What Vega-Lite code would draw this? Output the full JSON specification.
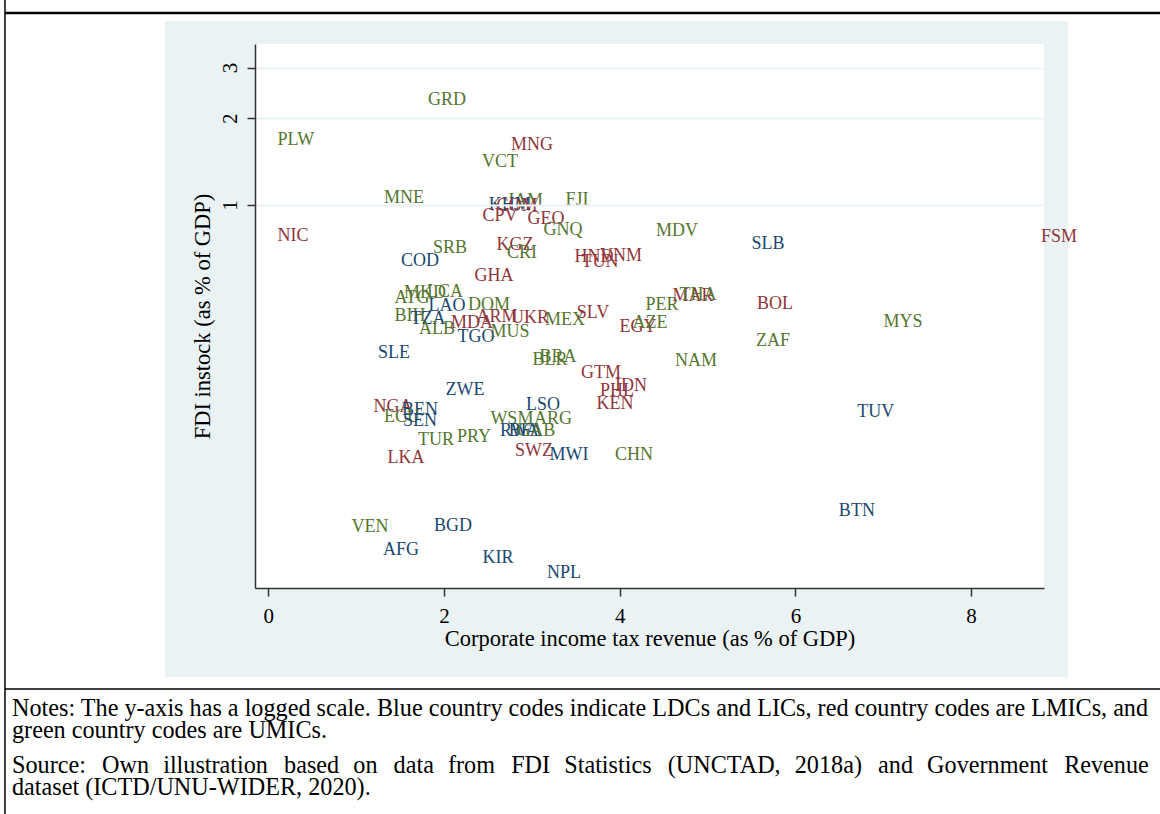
{
  "$schema": "https://vega.github.io/schema/vega-lite/v6.json",
  "width": 789,
  "height": 544,
  "autosize": {"type": "none"},
  "padding": {"left": 255, "top": 44, "right": 116, "bottom": 226},
  "background": "white",
  "config": {"view": {"stroke": null}, "font": "Liberation Serif"},
  "data": {"values": [
    {"code": "GRD", "cit": 2.034, "fdi": 2.316, "group": "UMIC"},
    {"code": "PLW", "cit": 0.315, "fdi": 1.681, "group": "UMIC"},
    {"code": "MNG", "cit": 3.002, "fdi": 1.616, "group": "LMIC"},
    {"code": "VCT", "cit": 2.638, "fdi": 1.41, "group": "UMIC"},
    {"code": "MNE", "cit": 1.545, "fdi": 1.057, "group": "UMIC"},
    {"code": "JAM", "cit": 2.921, "fdi": 1.032, "group": "UMIC"},
    {"code": "KHM", "cit": 2.75, "fdi": 1.0, "group": "LDC/LIC"},
    {"code": "COM", "cit": 2.83, "fdi": 0.992, "group": "LMIC"},
    {"code": "FJI", "cit": 3.514, "fdi": 1.041, "group": "UMIC"},
    {"code": "CPV", "cit": 2.638, "fdi": 0.916, "group": "LMIC"},
    {"code": "GEO", "cit": 3.161, "fdi": 0.894, "group": "LMIC"},
    {"code": "GNQ", "cit": 3.355, "fdi": 0.819, "group": "UMIC"},
    {"code": "MDV", "cit": 4.652, "fdi": 0.812, "group": "UMIC"},
    {"code": "NIC", "cit": 0.281, "fdi": 0.78, "group": "LMIC"},
    {"code": "FSM", "cit": 9.0, "fdi": 0.774, "group": "LMIC"},
    {"code": "SLB", "cit": 5.688, "fdi": 0.732, "group": "LDC/LIC"},
    {"code": "SRB", "cit": 2.068, "fdi": 0.709, "group": "UMIC"},
    {"code": "KGZ", "cit": 2.808, "fdi": 0.726, "group": "LMIC"},
    {"code": "CRI", "cit": 2.888, "fdi": 0.681, "group": "UMIC"},
    {"code": "HND", "cit": 3.707, "fdi": 0.66, "group": "LMIC"},
    {"code": "TUN", "cit": 3.776, "fdi": 0.634, "group": "LMIC"},
    {"code": "VNM", "cit": 4.015, "fdi": 0.665, "group": "LMIC"},
    {"code": "COD", "cit": 1.727, "fdi": 0.639, "group": "LDC/LIC"},
    {"code": "GHA", "cit": 2.569, "fdi": 0.567, "group": "LMIC"},
    {"code": "ATG", "cit": 1.636, "fdi": 0.4755, "group": "UMIC"},
    {"code": "MKD", "cit": 1.784, "fdi": 0.495, "group": "UMIC"},
    {"code": "LCA", "cit": 2.012, "fdi": 0.4989, "group": "UMIC"},
    {"code": "LAO", "cit": 2.034, "fdi": 0.446, "group": "LDC/LIC"},
    {"code": "DOM", "cit": 2.512, "fdi": 0.4496, "group": "UMIC"},
    {"code": "BIH", "cit": 1.613, "fdi": 0.4117, "group": "UMIC"},
    {"code": "TZA", "cit": 1.818, "fdi": 0.4019, "group": "LDC/LIC"},
    {"code": "ARM", "cit": 2.604, "fdi": 0.4084, "group": "LMIC"},
    {"code": "UKR", "cit": 2.979, "fdi": 0.4052, "group": "LMIC"},
    {"code": "MEX", "cit": 3.377, "fdi": 0.3988, "group": "UMIC"},
    {"code": "SLV", "cit": 3.696, "fdi": 0.4217, "group": "LMIC"},
    {"code": "ALB", "cit": 1.92, "fdi": 0.3709, "group": "UMIC"},
    {"code": "MDA", "cit": 2.319, "fdi": 0.3892, "group": "LMIC"},
    {"code": "TGO", "cit": 2.364, "fdi": 0.348, "group": "LDC/LIC"},
    {"code": "MUS", "cit": 2.751, "fdi": 0.3623, "group": "UMIC"},
    {"code": "PER", "cit": 4.481, "fdi": 0.4496, "group": "UMIC"},
    {"code": "MAR", "cit": 4.834, "fdi": 0.4831, "group": "LMIC"},
    {"code": "THA", "cit": 4.891, "fdi": 0.487, "group": "UMIC"},
    {"code": "BOL", "cit": 5.768, "fdi": 0.4532, "group": "LMIC"},
    {"code": "EGY", "cit": 4.208, "fdi": 0.3769, "group": "LMIC"},
    {"code": "AZE", "cit": 4.345, "fdi": 0.3892, "group": "UMIC"},
    {"code": "MYS", "cit": 7.225, "fdi": 0.3924, "group": "UMIC"},
    {"code": "ZAF", "cit": 5.745, "fdi": 0.3372, "group": "UMIC"},
    {"code": "SLE", "cit": 1.431, "fdi": 0.3062, "group": "LDC/LIC"},
    {"code": "BRA", "cit": 3.298, "fdi": 0.2966, "group": "UMIC"},
    {"code": "BLR", "cit": 3.207, "fdi": 0.2895, "group": "UMIC"},
    {"code": "NAM", "cit": 4.869, "fdi": 0.2872, "group": "UMIC"},
    {"code": "GTM", "cit": 3.787, "fdi": 0.261, "group": "LMIC"},
    {"code": "IDN", "cit": 4.129, "fdi": 0.2352, "group": "LMIC"},
    {"code": "PHL", "cit": 3.969, "fdi": 0.226, "group": "LMIC"},
    {"code": "ZWE", "cit": 2.239, "fdi": 0.2278, "group": "LDC/LIC"},
    {"code": "KEN", "cit": 3.947, "fdi": 0.2037, "group": "LMIC"},
    {"code": "NGA", "cit": 1.419, "fdi": 0.1989, "group": "LMIC"},
    {"code": "BEN", "cit": 1.727, "fdi": 0.1942, "group": "LDC/LIC"},
    {"code": "LSO", "cit": 3.127, "fdi": 0.2021, "group": "LDC/LIC"},
    {"code": "TUV", "cit": 6.916, "fdi": 0.1911, "group": "LDC/LIC"},
    {"code": "ECU", "cit": 1.522, "fdi": 0.1836, "group": "UMIC"},
    {"code": "SEN", "cit": 1.727, "fdi": 0.1778, "group": "LDC/LIC"},
    {"code": "WSM", "cit": 2.773, "fdi": 0.1807, "group": "UMIC"},
    {"code": "ARG", "cit": 3.24, "fdi": 0.1807, "group": "UMIC"},
    {"code": "RWA", "cit": 2.86, "fdi": 0.1642, "group": "LDC/LIC"},
    {"code": "BFA", "cit": 2.93, "fdi": 0.1642, "group": "LDC/LIC"},
    {"code": "GAB", "cit": 3.05, "fdi": 0.1642, "group": "UMIC"},
    {"code": "TUR", "cit": 1.909, "fdi": 0.1528, "group": "UMIC"},
    {"code": "PRY", "cit": 2.341, "fdi": 0.1565, "group": "UMIC"},
    {"code": "SWZ", "cit": 3.025, "fdi": 0.1399, "group": "LMIC"},
    {"code": "MWI", "cit": 3.423, "fdi": 0.1355, "group": "LDC/LIC"},
    {"code": "CHN", "cit": 4.163, "fdi": 0.1355, "group": "UMIC"},
    {"code": "LKA", "cit": 1.567, "fdi": 0.1323, "group": "LMIC"},
    {"code": "BTN", "cit": 6.7, "fdi": 0.0866, "group": "LDC/LIC"},
    {"code": "VEN", "cit": 1.158, "fdi": 0.0762, "group": "UMIC"},
    {"code": "BGD", "cit": 2.102, "fdi": 0.0768, "group": "LDC/LIC"},
    {"code": "AFG", "cit": 1.511, "fdi": 0.0634, "group": "LDC/LIC"},
    {"code": "KIR", "cit": 2.615, "fdi": 0.0595, "group": "LDC/LIC"},
    {"code": "NPL", "cit": 3.366, "fdi": 0.0528, "group": "LDC/LIC"}
  ]},
  "layer": [
    {
      "data": {"values": [{}]},
      "mark": {"type": "rect", "color": "#EAF2F3"},
      "encoding": {
        "x": {"datum": -1.1755, "type": "quantitative"},
        "x2": {"datum": 9.1033},
        "y": {"datum": 4.353, "type": "quantitative"},
        "y2": {"datum": 0.02297}
      }
    },
    {
      "data": {"values": [{}]},
      "mark": {"type": "rect", "color": "white"},
      "encoding": {
        "x": {"datum": -0.151, "type": "quantitative"},
        "x2": {"datum": 8.83},
        "y": {"datum": 3.6224, "type": "quantitative"},
        "y2": {"datum": 0.04677}
      }
    },
    {
      "data": {"values": [{}]},
      "mark": {"type": "rule", "color": "black", "strokeWidth": 2.5},
      "encoding": {
        "x": {"datum": -2.997, "type": "quantitative"},
        "x2": {"datum": 10.15},
        "y": {"datum": 4.641, "type": "quantitative"}
      }
    },
    {
      "data": {"values": [{}]},
      "mark": {"type": "rule", "color": "black", "strokeWidth": 1.5},
      "encoding": {
        "x": {"datum": -2.997, "type": "quantitative"},
        "x2": {"datum": 10.15},
        "y": {"datum": 0.02087, "type": "quantitative"}
      }
    },
    {
      "data": {"values": [{}]},
      "mark": {"type": "rule", "color": "black", "strokeWidth": 1.5},
      "encoding": {
        "x": {"datum": -2.997, "type": "quantitative"},
        "y": {"datum": 5.15, "type": "quantitative"},
        "y2": {"datum": 0.007683}
      }
    },
    {
      "data": {"values": [{}]},
      "mark": {"type": "text", "align": "left", "baseline": "middle", "fontSize": 24.2, "color": "black", "font": "Liberation Serif",
        "text": "Notes: The y-axis has a logged scale. Blue country codes indicate LDCs and LICs, red country codes are LMICs, and"},
      "encoding": {
        "x": {"datum": -2.917, "type": "quantitative"},
        "y": {"datum": 0.01778, "type": "quantitative"}
      }
    },
    {
      "data": {"values": [{}]},
      "mark": {"type": "text", "align": "left", "baseline": "middle", "fontSize": 24.2, "color": "black", "font": "Liberation Serif",
        "text": "green country codes are UMICs."},
      "encoding": {
        "x": {"datum": -2.917, "type": "quantitative"},
        "y": {"datum": 0.01492, "type": "quantitative"}
      }
    },
    {
      "data": {"values": [{}]},
      "mark": {"type": "text", "align": "left", "baseline": "middle", "fontSize": 24.2, "color": "black", "font": "Liberation Serif",
        "text": "Source: \u2004\u200aOwn \u2004illustration \u2004\u200abased \u2004on \u2004\u200adata \u2004from \u2004\u200aFDI \u2004Statistics \u2004\u200a(UNCTAD, \u20042018a) \u2004\u200aand \u2004Government \u2004\u200aRevenue"},
      "encoding": {
        "x": {"datum": -2.917, "type": "quantitative"},
        "y": {"datum": 0.01128, "type": "quantitative"}
      }
    },
    {
      "data": {"values": [{}]},
      "mark": {"type": "text", "align": "left", "baseline": "middle", "fontSize": 24.2, "color": "black", "font": "Liberation Serif",
        "text": "dataset (ICTD/UNU-WIDER, 2020)."},
      "encoding": {
        "x": {"datum": -2.917, "type": "quantitative"},
        "y": {"datum": 0.009456, "type": "quantitative"}
      }
    },
    {
      "mark": {"type": "text", "fontSize": 18, "font": "Liberation Serif", "align": "center", "baseline": "middle"},
      "encoding": {
        "text": {"field": "code", "type": "nominal"},
        "x": {
          "field": "cit", "type": "quantitative",
          "scale": {"domain": [-0.151, 8.83], "nice": false, "zero": false},
          "axis": {
            "values": [0, 2, 4, 6, 8], "format": "d", "grid": false, "zindex": 1,
            "title": "Corporate income tax revenue (as % of GDP)",
            "domainColor": "#333333", "domainWidth": 1.5,
            "tickColor": "#333333", "tickWidth": 1.5, "tickSize": 8,
            "labelFont": "Liberation Serif", "labelFontSize": 21, "labelColor": "black", "labelPadding": 9,
            "titleFont": "Liberation Serif", "titleFontSize": 22.5, "titleFontWeight": "normal", "titleColor": "black", "titlePadding": 1
          }
        },
        "y": {
          "field": "fdi", "type": "quantitative",
          "scale": {"type": "log", "domain": [0.04677, 3.6224], "nice": false},
          "axis": {
            "values": [1, 2, 3], "format": "d", "grid": true, "gridColor": "#EAF2F3", "gridWidth": 2, "zindex": 1,
            "title": "FDI instock (as % of GDP)",
            "domainColor": "#333333", "domainWidth": 1.5,
            "tickColor": "#333333", "tickWidth": 1.5, "tickSize": 8,
            "labelFont": "Liberation Serif", "labelFontSize": 21, "labelColor": "black", "labelPadding": 7, "labelAngle": -90,
            "titleFont": "Liberation Serif", "titleFontSize": 22.5, "titleFontWeight": "normal", "titleColor": "black", "titlePadding": 5
          }
        },
        "color": {
          "field": "group", "type": "nominal",
          "scale": {"domain": ["LDC/LIC", "LMIC", "UMIC"], "range": ["#1A476F", "#90353B", "#55752F"]},
          "legend": null
        }
      }
    }
  ]
}
